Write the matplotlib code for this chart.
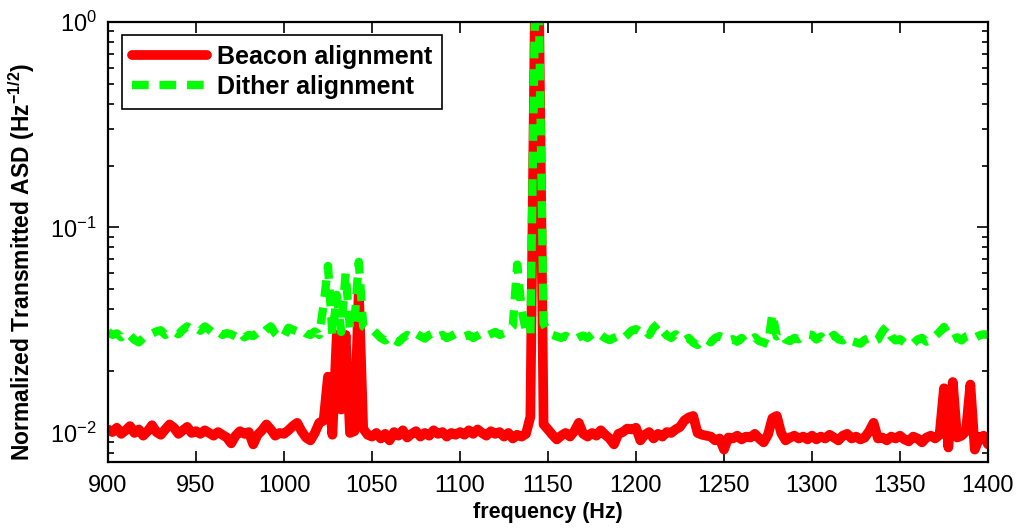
import numpy as np
import matplotlib
matplotlib.use('Agg')
import matplotlib.pyplot as plt
from matplotlib.ticker import LogLocator, NullFormatter, MultipleLocator

plt.rcParams['font.family'] = ['Liberation Sans', 'DejaVu Sans']
plt.rcParams['mathtext.fontset'] = 'custom'
plt.rcParams['mathtext.rm'] = 'Liberation Sans'
plt.rcParams['mathtext.bf'] = 'Liberation Sans:bold'

# frequency grid (Hz), 2.5 Hz spacing
freq = np.arange(900, 1400.1, 2.5)

# Beacon alignment (red), 50 Hz per row
beacon = [
    0.0104, 0.0101, 0.0106, 0.0099, 0.0103, 0.0108, 0.0100, 0.0104, 0.0097, 0.0102,
    0.0109, 0.0101, 0.0098, 0.0104, 0.0110, 0.0106, 0.0099, 0.0103, 0.0107, 0.0100,
    0.0102, 0.0099, 0.0103, 0.0100, 0.0097, 0.0101, 0.0098, 0.0095, 0.0089, 0.0097,
    0.0102, 0.0099, 0.0101, 0.0088, 0.0098, 0.0103, 0.0110, 0.0104, 0.0097, 0.0100,
    0.0099, 0.0103, 0.0108, 0.0112, 0.0102, 0.0095, 0.0092, 0.0100, 0.0112, 0.0115,
    0.0188, 0.0098, 0.0300, 0.0130, 0.0300, 0.0100, 0.0102, 0.0500, 0.0105, 0.0098,
    0.0096, 0.0100, 0.0094, 0.0099, 0.0092, 0.0101, 0.0097, 0.0103, 0.0095, 0.0099,
    0.0102, 0.0096, 0.0100, 0.0097, 0.0103, 0.0099, 0.0101, 0.0096, 0.0100, 0.0098,
    0.0101, 0.0098, 0.0103, 0.0099, 0.0104, 0.0100, 0.0097, 0.0102, 0.0099, 0.0101,
    0.0096, 0.0100, 0.0094, 0.0098, 0.0096, 0.0099, 0.0120, 1.0000, 1.0000, 0.0110,
    0.0104, 0.0098, 0.0093, 0.0097, 0.0100, 0.0096, 0.0102, 0.0112, 0.0099, 0.0096,
    0.0100, 0.0097, 0.0103, 0.0098, 0.0094, 0.0088, 0.0099, 0.0101, 0.0105, 0.0104,
    0.0106, 0.0092, 0.0098, 0.0101, 0.0094, 0.0099, 0.0096, 0.0101, 0.0100, 0.0104,
    0.0107, 0.0115, 0.0119, 0.0121, 0.0100, 0.0098, 0.0097, 0.0096, 0.0092, 0.0094,
    0.0083, 0.0095, 0.0094, 0.0097, 0.0093, 0.0096, 0.0095, 0.0099, 0.0094, 0.0090,
    0.0098, 0.0118, 0.0121, 0.0100, 0.0092, 0.0095, 0.0097, 0.0094, 0.0096, 0.0093,
    0.0097, 0.0093, 0.0096, 0.0094, 0.0098, 0.0095, 0.0092, 0.0097, 0.0099, 0.0094,
    0.0096, 0.0093, 0.0095, 0.0102, 0.0112, 0.0094, 0.0095, 0.0092, 0.0096, 0.0094,
    0.0097, 0.0093, 0.0091, 0.0096, 0.0094, 0.0090, 0.0095, 0.0097, 0.0094, 0.0098,
    0.0165, 0.0085, 0.0177, 0.0095, 0.0097, 0.0102, 0.0172, 0.0083, 0.0094, 0.0097,
    0.0088,
]

# Dither alignment (green)
dither = [
    0.0310, 0.0300, 0.0305, 0.0292, 0.0306, 0.0298, 0.0284, 0.0276, 0.0290, 0.0296,
    0.0305, 0.0312, 0.0316, 0.0300, 0.0309, 0.0313, 0.0302, 0.0318, 0.0330, 0.0320,
    0.0325, 0.0314, 0.0330, 0.0318, 0.0305, 0.0312, 0.0300, 0.0306, 0.0302, 0.0295,
    0.0310, 0.0292, 0.0300, 0.0296, 0.0308, 0.0302, 0.0318, 0.0330, 0.0305, 0.0290,
    0.0295, 0.0325, 0.0318, 0.0312, 0.0318, 0.0305, 0.0300, 0.0312, 0.0300, 0.0420,
    0.0650, 0.0300, 0.0470, 0.0310, 0.0600, 0.0320, 0.0340, 0.0680, 0.0330, 0.0318,
    0.0320, 0.0305, 0.0290, 0.0282, 0.0295, 0.0285, 0.0276, 0.0290, 0.0300, 0.0292,
    0.0305, 0.0296, 0.0288, 0.0300, 0.0307, 0.0294, 0.0300, 0.0290, 0.0296, 0.0304,
    0.0302, 0.0295, 0.0300, 0.0290, 0.0298, 0.0306, 0.0296, 0.0303, 0.0310, 0.0300,
    0.0306, 0.0315, 0.0330, 0.0660, 0.0400, 0.0310, 0.0300, 1.0000, 1.0000, 0.0340,
    0.0310, 0.0300, 0.0295, 0.0290, 0.0297, 0.0288, 0.0284, 0.0292, 0.0298, 0.0290,
    0.0302, 0.0294, 0.0300, 0.0289, 0.0283, 0.0290, 0.0296, 0.0287, 0.0300, 0.0315,
    0.0320, 0.0310, 0.0318, 0.0300, 0.0325, 0.0340, 0.0315, 0.0298, 0.0290, 0.0302,
    0.0288, 0.0282, 0.0290, 0.0275, 0.0268, 0.0280, 0.0286, 0.0276, 0.0290, 0.0296,
    0.0290, 0.0282, 0.0286, 0.0278, 0.0290, 0.0275, 0.0284, 0.0292, 0.0280, 0.0276,
    0.0270, 0.0380, 0.0295, 0.0305, 0.0285, 0.0280, 0.0290, 0.0286, 0.0295, 0.0302,
    0.0300, 0.0285, 0.0295, 0.0280, 0.0290, 0.0300, 0.0286, 0.0282, 0.0292, 0.0280,
    0.0276, 0.0272, 0.0284, 0.0290, 0.0278, 0.0285, 0.0312, 0.0330, 0.0295, 0.0282,
    0.0286, 0.0275, 0.0280, 0.0272, 0.0285, 0.0290, 0.0278, 0.0284, 0.0296, 0.0310,
    0.0328, 0.0300, 0.0285, 0.0292, 0.0282, 0.0295, 0.0300, 0.0290, 0.0298, 0.0302,
    0.0300,
]

fig = plt.figure(figsize=(10.18, 5.31), dpi=100)
ax = fig.add_axes([0.1061, 0.1299, 0.8644, 0.8287])

ax.plot(freq, beacon, color='#ff0000', lw=7, solid_joinstyle='round',
        solid_capstyle='round', label='Beacon alignment')
ax.plot(freq, dither, color='#00ff00', lw=6, linestyle=(0, (2.0, 1.3)),
        label='Dither alignment')

ax.set_yscale('log')
ax.set_xlim(900, 1400)
ax.set_ylim(0.00722, 1.0)
ax.xaxis.set_major_locator(MultipleLocator(50))
ax.yaxis.set_major_locator(LogLocator(base=10, numticks=10))
ax.yaxis.set_minor_locator(LogLocator(base=10, subs=np.arange(2, 10), numticks=10))
ax.yaxis.set_minor_formatter(NullFormatter())

ax.tick_params(which='both', direction='in', top=True, right=True, labelsize=17, width=1.2)
ax.tick_params(which='major', length=8)
ax.tick_params(which='minor', length=4)
ax.tick_params(axis='x', pad=9)
ax.tick_params(axis='y', pad=8)
for s in ax.spines.values():
    s.set_linewidth(1.6)

ax.set_xlabel('frequency (Hz)', fontsize=15.5, fontweight='bold', labelpad=4)
ax.set_ylabel(r'Normalized Transmitted ASD (Hz$^{\mathbf{-1/2}}$)', fontsize=16.5,
              fontweight='bold')
ax.yaxis.set_label_coords(-0.081, 0.455)

leg = ax.legend(loc='upper left', bbox_to_anchor=(0.016, 0.970), borderaxespad=0,
                prop={'weight': 'bold', 'size': 18}, handlelength=3.0,
                fancybox=False, framealpha=1, borderpad=0.4, labelspacing=0.22,
                handletextpad=0.4)
leg.get_frame().set_edgecolor('black')
leg.get_frame().set_linewidth(1.2)

fig.savefig('out.png', dpi=100)
